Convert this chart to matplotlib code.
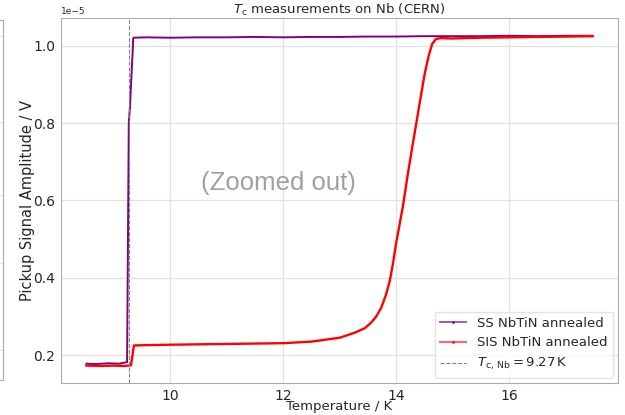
import matplotlib
matplotlib.use("Agg")
import matplotlib.pyplot as plt
from matplotlib.lines import Line2D
import numpy as np

# ---- data (values in units of 1e-5 V) ----
ss_T = [8.52, 8.7, 8.9, 9.1, 9.24, 9.27, 9.29, 9.35, 9.6, 10.0, 10.5, 11.0, 11.5, 12.0,
        12.5, 13.0, 13.5, 14.0, 14.5, 15.0, 15.5, 16.0, 16.5, 17.0, 17.48]
ss_V = [0.178, 0.177, 0.179, 0.178, 0.182, 0.80, 0.84, 1.021, 1.022, 1.021, 1.022, 1.022,
        1.023, 1.022, 1.023, 1.023, 1.024, 1.024, 1.025, 1.025, 1.025, 1.026, 1.025, 1.026, 1.026]

sis_T = [8.52, 8.8, 9.0, 9.2, 9.31, 9.36, 9.6, 10.0, 10.5, 11.0, 11.5, 12.0, 12.5, 13.0,
         13.27, 13.45, 13.56, 13.65, 13.74, 13.82, 13.89, 13.95, 14.0, 14.06, 14.12, 14.21,
         14.29, 14.36, 14.44, 14.51, 14.58, 14.64, 14.71, 14.8, 15.0, 15.5, 16.0, 16.5, 17.0, 17.48]
sis_V = [0.173, 0.172, 0.173, 0.172, 0.174, 0.225, 0.226, 0.227, 0.228, 0.229, 0.230, 0.231,
         0.235, 0.245, 0.258, 0.270, 0.284, 0.300, 0.323, 0.355, 0.392, 0.440, 0.488, 0.535,
         0.583, 0.669, 0.740, 0.800, 0.870, 0.929, 0.975, 1.005, 1.018, 1.020, 1.019, 1.021,
         1.022, 1.023, 1.024, 1.025]

Tc_Nb = 9.27
scale = 1e-5

x_ticks = [10, 12, 14, 16]
y_ticks = [0.2, 0.4, 0.6, 0.8, 1.0]
neighbor_grid = [36, 122, 195, 263, 350]  # pixel rows of neighbouring panel's grid

plt.rcParams['font.family'] = ['DejaVu Sans']
W, H = 625, 415
fig = plt.figure(figsize=(W / 100, H / 100), dpi=100)

grid_c = '#e2e2e2'
spine_c = '#ababab'
text_c = '#262626'

# neighbouring (cut-off) panel on the far left
axn = fig.add_axes([-0.2, 1 - 380 / H, 0.2 + 3 / W, (380 - 20) / H])
axn.set_ylim(380, 20)
axn.set_yticks(neighbor_grid)
axn.grid(True, axis='y', color=grid_c, lw=0.8)
axn.set_xticks([])
axn.tick_params(length=0, labelleft=False)
for s in axn.spines.values():
    s.set_color(spine_c)

ax = fig.add_axes([61 / W, 1 - 383 / H, (618 - 61) / W, (383 - 18) / H])
ax.plot(ss_T, np.array(ss_V) * scale, color='purple', lw=1.4)
ax.plot(sis_T, np.array(sis_V) * scale, color='red', lw=1.7)
ax.axvline(Tc_Nb, color='gray', ls='--', lw=0.8)

ax.set_xticks(x_ticks)
ax.set_yticks(np.array(y_ticks) * scale)
ax.set_xlim(8.07, 17.93)
ax.set_ylim(0.128 * scale, 1.072 * scale)
ax.grid(True, color=grid_c, lw=0.9)
ax.set_axisbelow(True)
ax.tick_params(length=0, labelsize=10, labelcolor=text_c, pad=4)
for s in ax.spines.values():
    s.set_color(spine_c)
ax.yaxis.get_offset_text().set_fontsize(6.5)
ax.yaxis.get_offset_text().set_color(text_c)

ax.set_xlabel('Temperature / K', fontsize=9.5, color=text_c, labelpad=-1.5)
ax.set_ylabel('Pickup Signal Amplitude / V', fontsize=10.5, color=text_c, labelpad=-1)
ax.set_title(r'$T_\mathrm{c}$ measurements on Nb (CERN)', fontsize=9.5, color=text_c, pad=3)

ax.text(0.39, 0.548, '(Zoomed out)', transform=ax.transAxes, ha='center', va='center',
        fontsize=18.5, color='#a0a0a0', family='Liberation Sans')

handles = [
    Line2D([], [], color='purple', lw=1.3, marker='.', ms=2.5, alpha=0.7),
    Line2D([], [], color='red', lw=1.5, marker='.', ms=2.5, alpha=0.6),
    Line2D([], [], color='gray', ls='--', lw=0.8),
]
labels = ['SS NbTiN annealed', 'SIS NbTiN annealed', r'$T_\mathrm{c,\,Nb} = 9.27\,\mathrm{K}$']
leg = ax.legend(handles, labels, loc='lower right', fontsize=9.5, framealpha=0.8,
                edgecolor='#dddddd', borderaxespad=0.4)
for t in leg.get_texts():
    t.set_color(text_c)

fig.savefig('out.png', dpi=100)
